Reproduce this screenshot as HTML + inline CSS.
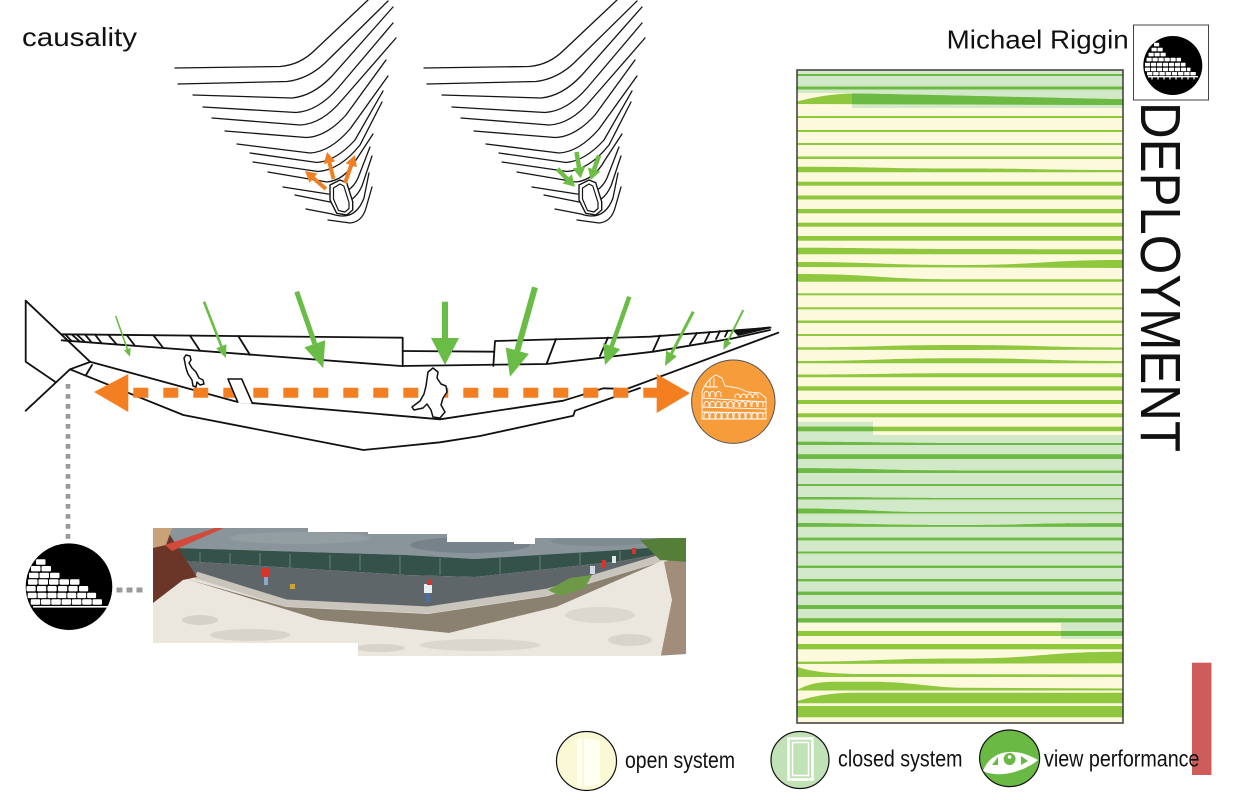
<!DOCTYPE html>
<html><head><meta charset="utf-8"><style>
html,body{margin:0;padding:0;background:#fff;}
svg{display:block;}
text{font-family:"Liberation Sans",Arial,sans-serif;fill:#111;}
</style></head><body>
<svg width="1236" height="800" viewBox="0 0 1236 800" xmlns="http://www.w3.org/2000/svg">
<rect width="1236" height="800" fill="#fff"/>
<defs>
  <g id="contours" fill="none" stroke="#151515" stroke-width="1.3" stroke-linecap="round">
    <path d="M175,68 L280,66.5 Q300,65 315,50 L368,0"/>
    <path d="M178,84 L287,81.5 Q308,79 325,63 L388,1"/>
    <path d="M193,95 L292,98 Q313,96 332,76 L393,7"/>
    <path d="M203,107 L296,112.5 Q318,111 338,88 L393,23"/>
    <path d="M212,118 L300,125 Q322,124 342,100 L396,38"/>
    <path d="M225,131 L306,137.5 Q326,137 346,115 L386,60"/>
    <path d="M237,144 L310,153 Q330,152 350,129 L388,76"/>
    <path d="M250,153 L317,162.5 Q336,161 355,140 L383,91"/>
    <path d="M253,162 L318,171.5 Q340,170 360,145 L382,102"/>
    <path d="M268,172 L327,182 Q345,180 356,160 L373,134"/>
    <path d="M283,187 L328,194 Q350,196 358,178 L370,147"/>
    <path d="M295,195 L330,202 Q352,208 362,186 L372,156"/>
    <path d="M306,209 L332,214 Q355,222 364,198 L369,173"/>
    <path d="M328,220 L350,223 Q362,222 366,208 L372,187"/>
  </g>
  <g id="rock">
    <polygon points="330,185 340,180 346.7,182.7 352.7,201.7 352.7,210 346.7,215 336.7,213.3 330,200" fill="#fff" stroke="#151515" stroke-width="1.4" stroke-linejoin="round"/>
    <polygon points="333.5,188 340,184 343.8,186 349,202.5 349,208.5 345,212 338.5,210.5 333.5,199" fill="none" stroke="#151515" stroke-width="1.2" stroke-linejoin="round"/>
  </g>
  <g id="stripes">
    <rect x="797" y="74" width="326" height="2"/>
    <rect x="797" y="86.5" width="326" height="3"/>
    <path d="M797,101.5 C815,97 832,93.8 852,93.5 C950,95 1050,98 1123,99.3 L1123,105 L797,104 Z"/>
    <rect x="797" y="116" width="326" height="2"/>
    <rect x="797" y="130" width="326" height="2"/>
    <rect x="797" y="143" width="326" height="2"/>
    <rect x="797" y="156.5" width="326" height="2.5"/>
    <path d="M797,166.7 C878,166.7 878,168.5 960,168.5 S1042,170 1123,170 L1123,172.3 L797,172.3 Z"/>
    <rect x="797" y="181.7" width="326" height="4"/>
    <rect x="797" y="195.5" width="326" height="4"/>
    <rect x="797" y="209" width="326" height="4.3"/>
    <rect x="797" y="222.7" width="326" height="4"/>
    <rect x="797" y="236" width="326" height="4.7"/>
    <path d="M797,247.7 C878,247.7 878,249 960,249 S1042,249.3 1123,249.3 L1123,254.3 L797,254.3 Z"/>
    <path d="M797,262 C878,262 878,265 960,265 S1042,260 1123,260 L1123,268 L797,267 Z"/>
    <path d="M797,274 C878,274 878,279.3 960,279.3 L1123,279.3 L1123,281.7 L797,281.7 Z"/>
    <rect x="797" y="293.3" width="326" height="2"/>
    <rect x="797" y="307.3" width="326" height="2"/>
    <rect x="797" y="320.5" width="326" height="2.5"/>
    <rect x="797" y="334" width="326" height="2"/>
    <path d="M797,347.3 C878,347.3 878,345 960,345 S1042,347.5 1123,347.5 L1123,349.7 C1042,349.7 1042,350 960,350 S878,349.7 797,349.7 Z"/>
    <path d="M797,361 C878,361 878,358.3 960,358.3 S1042,361 1123,361 L1123,363.3 L797,363.3 Z"/>
    <path d="M797,374.5 C878,374.5 878,373.3 960,373.3 L1123,373.3 L1123,377.3 L797,377.3 Z"/>
    <rect x="797" y="386.3" width="326" height="4.3"/>
    <rect x="797" y="400" width="326" height="4"/>
    <rect x="797" y="413.3" width="326" height="4"/>
    <rect x="797" y="426.7" width="326" height="4.5"/>
    <path d="M797,441.7 C878,441.7 878,443 960,443 L1123,443 L1123,445 L797,445 Z"/>
    <rect x="797" y="454.3" width="326" height="4.7"/>
    <path d="M797,468.3 C878,468.3 878,470.5 960,470.5 L1123,470.5 L1123,473 L797,473 Z"/>
    <rect x="797" y="484" width="326" height="2"/>
    <path d="M797,497 C878,497 878,498 960,498 L1123,498 L1123,499.5 L797,499.5 Z"/>
    <path d="M797,508.5 C850,508.5 880,512 920,512 L1123,512 L1123,513.5 L797,513.5 Z"/>
    <path d="M797,523 C850,523 870,525 960,525 S1000,523.3 1123,523.3 L1123,526.7 L797,526.7 Z"/>
    <rect x="797" y="537.7" width="326" height="2.6"/>
    <rect x="797" y="551.5" width="326" height="2"/>
    <rect x="797" y="565.7" width="326" height="2.3"/>
    <rect x="797" y="579" width="326" height="2.3"/>
    <rect x="797" y="591.7" width="326" height="3.3"/>
    <rect x="797" y="605" width="326" height="4"/>
    <rect x="797" y="618.3" width="326" height="4"/>
    <rect x="797" y="631" width="326" height="5"/>
    <rect x="797" y="644" width="326" height="5.3"/>
    <path d="M797,661.7 C878,661.7 878,658.5 960,658.5 S1042,651.7 1123,651.7 L1123,663.3 L797,664 Z"/>
    <path d="M797,666.7 C812,672 832,674 870,674 L1123,674.5 L1123,677 L797,677 Z"/>
    <path d="M797,690 C808,684 818,682 832,681.7 L873,681.7 C910,682 935,687.7 960,687.7 L1123,688.5 L1123,690.5 L797,690.5 Z"/>
    <path d="M797,701 C815,696 830,693 850,692.7 L1123,692.7 L1123,703.3 L797,703.3 Z"/>
    <rect x="797" y="706" width="326" height="11.3"/>
  </g>
  <clipPath id="greenClip">
    <polygon points="797,70 1123,70 1123,108 852,108 852,93 797,93"/>
    <polygon points="797,421.7 873,421.7 873,435 1123,435 1123,623 797,623"/>
    <rect x="1061" y="623" width="62" height="16"/>
  </clipPath>
  <clipPath id="photoClip">
    <polygon points="153,528 308,528 308,532 368,532 368,534 447,534 447,542 514,542 514,544 535,544 535,538 686,538 686,654 655,656 358,656 358,643 153,643"/>
  </clipPath>
  <clipPath id="leftCircle"><circle cx="69" cy="586.7" r="43.3"/></clipPath>
  <clipPath id="logoCircle"><circle cx="1172.8" cy="65.5" r="29.5"/></clipPath>
  <clipPath id="colClip"><circle cx="733.3" cy="401.7" r="41"/></clipPath>
</defs>

<!-- titles -->
<text x="22" y="46" font-size="26" textLength="115" lengthAdjust="spacingAndGlyphs">causality</text>
<text x="946.7" y="48.3" font-size="26" textLength="182" lengthAdjust="spacingAndGlyphs">Michael Riggin</text>
<text transform="translate(1141,102) rotate(90)" font-size="57" textLength="350" lengthAdjust="spacingAndGlyphs">DEPLOYMENT</text>

<!-- top sketches -->
<use href="#contours"/>
<use href="#rock"/>
<g transform="translate(249,0)">
  <use href="#contours"/>
  <use href="#rock"/>
</g>
<!-- orange small arrows (left sketch) -->
<g fill="#f07f22" stroke="#f07f22">
  <line x1="326" y1="189" x2="313.4" y2="178.1" stroke-width="4"/>
  <polygon points="305,171 317.3,173.5 309.5,182.7" stroke="none"/>
  <line x1="333.5" y1="179" x2="329.5" y2="162.7" stroke-width="4"/>
  <polygon points="327,152 335.3,161.4 323.7,164" stroke="none"/>
  <line x1="345" y1="183" x2="351.2" y2="165.3" stroke-width="4"/>
  <polygon points="355,155 356.8,167.4 345.6,163.2" stroke="none"/>
</g>
<!-- green small arrows (right sketch) -->
<g fill="#6cbf44" stroke="#6cbf44">
  <line x1="557.5" y1="169" x2="567.2" y2="178.9" stroke-width="4.5"/>
  <polygon points="575,186.7 562.6,183.5 571.8,174.3" stroke="none"/>
  <line x1="576.5" y1="152" x2="579" y2="167.4" stroke-width="4.5"/>
  <polygon points="580.7,178.3 572.6,168.4 585.4,166.4" stroke="none"/>
  <line x1="599" y1="155.5" x2="594.1" y2="169.5" stroke-width="4.5"/>
  <polygon points="590.7,180 587.9,167.5 600.3,171.5" stroke="none"/>
</g>

<!-- section drawing -->
<g fill="none" stroke="#111" stroke-width="1.8" stroke-linejoin="round" stroke-linecap="round">
  <path d="M25.7,300.7 L90,361.7"/>
  <path d="M25.7,300.7 L25.7,361.7 L55,381.7"/>
  <path d="M25.7,410.7 L70,369.3 L90,362"/>
  <path d="M92,365 L86,375"/>
  <path d="M90,361.7 L236.7,401.7 L440,419.3 L563.3,400.7 L603.3,388.3 L626.7,389 L778.3,332.7"/>
  <path d="M70,369.3 L183.3,415 L363.3,450 L440,442.3 L480,436 L573.3,415.7 L575,410.7 L640,388"/>
  <path d="M61.7,334.3 L402.7,337.7 L402.7,366"/>
  <path d="M402.7,351 L493.3,351.7"/>
  <path d="M493.3,366 L495,341 L650,336.7 L770,327.7"/>
  <path d="M61.7,340.3 L401,366 L546.7,364 L653.3,351.7 L733.3,338.3 L770,330"/>
  <path d="M65,334.3 L71.7,341.1 M71.7,334.4 L80,341.7 M76.7,334.5 L85,342.1 M85,334.5 L91.7,342.6 M95,334.6 L101.7,343.3 M108.3,334.8 L116.7,344.5 M126.7,335 L135,345.8 M153.3,335.2 L163.3,348 M190,335.6 L200,350.8 M238.3,336.1 L250,354.9"/>
  <path d="M556,339 L546.7,363.5 M608,337.5 L600,356 M660,335.5 L653,351 M697,333 L690,344 M710,332 L705,341.5 M720,331 L716,339 M728,330.5 L725,336.5"/>
</g>
<polygon points="733,330.5 770,326.5 772,328 738,336" fill="#111"/>

<!-- green arrows -->
<g fill="#69bc45" stroke="#69bc45">
  <line x1="115.7" y1="316" x2="127.3" y2="349.1" stroke-width="1.6"/>
  <polygon points="130,356.7 124,350.3 130.6,347.9" stroke="none"/>
  <line x1="204" y1="301.7" x2="221.3" y2="346.2" stroke-width="2.6"/>
  <polygon points="226,358.3 216.2,348.2 226.4,344.2" stroke="none"/>
  <line x1="296.7" y1="291.7" x2="314.8" y2="343.8" stroke-width="5"/>
  <polygon points="323.3,368.3 304.4,347.4 325.2,340.2" stroke="none"/>
  <line x1="445" y1="301.7" x2="445" y2="339" stroke-width="6"/>
  <polygon points="445,365 431,338 459,338" stroke="none"/>
  <line x1="535" y1="287.3" x2="517.3" y2="350.7" stroke-width="6"/>
  <polygon points="510,376.7 505.7,347.5 528.9,353.9" stroke="none"/>
  <line x1="629.3" y1="296.7" x2="611.7" y2="346.2" stroke-width="4.5"/>
  <polygon points="605,365 603.2,343.2 620.2,349.2" stroke="none"/>
  <line x1="693.3" y1="311.7" x2="671.5" y2="353.6" stroke-width="3"/>
  <polygon points="665,366 666.2,350.8 676.8,356.4" stroke="none"/>
  <line x1="743.3" y1="310" x2="727.8" y2="341.1" stroke-width="2"/>
  <polygon points="723.3,350 724.2,339.3 731.4,342.9" stroke="none"/>
</g>

<!-- orange dashed arrow -->
<line x1="133.3" y1="392.7" x2="657" y2="392.7" stroke="#f47f20" stroke-width="10" stroke-dasharray="15 15"/>
<polygon points="94,392 128.3,374 128.3,412" fill="#f47f20"/>
<polygon points="690,393.3 656.7,374 656.7,413" fill="#f47f20"/>

<!-- door & people -->
<path d="M238,402.7 L228,379 L241.7,379 L252.7,404" fill="#fff" stroke="#111" stroke-width="1.6" stroke-linejoin="round"/>
<polygon points="184,358 186,355 190,356 191,360 189,363 192,368 196,372 199,378 203,380 204,384 200,385 197,382 196,387 193,386 192,380 188,374 186,368 185,363" fill="#fff" stroke="#111" stroke-width="1.5" stroke-linejoin="round"/>
<polygon points="428,372 433,368 438,372 437,378 441,384 446,386 447,392 443,398 441,405 445,412 440,418 433,417 431,410 427,404 423,408 414,410 412,407 420,401 424,394 426,386 427,379" fill="#fff" stroke="#111" stroke-width="1.5" stroke-linejoin="round"/>

<!-- colosseum -->
<circle cx="733.3" cy="401.7" r="41.7" fill="#f79c3b" stroke="#555" stroke-width="1"/>
<g clip-path="url(#colClip)" fill="none" stroke="#fff" stroke-width="0.9">
  <path d="M702,419 L702,392 Q706,380 716,375 L722,378 L725,386 L738,388 L748,392 L760,393 L766,398 L766,419 Z"/>
  <path d="M702,398 L766,402 M702,407 L766,409 M702,412 L766,413"/>
  <path d="M704,419 v-4 a2.5,2.5 0 0 1 5,0 v4 m1,0 v-4 a2.5,2.5 0 0 1 5,0 v4 m1,0 v-4 a2.5,2.5 0 0 1 5,0 v4 m1,0 v-4 a2.5,2.5 0 0 1 5,0 v4 m1,0 v-4 a2.5,2.5 0 0 1 5,0 v4 m1,0 v-4 a2.5,2.5 0 0 1 5,0 v4 m1,0 v-4 a2.5,2.5 0 0 1 5,0 v4 m1,0 v-4 a2.5,2.5 0 0 1 5,0 v4 m1,0 v-4 a2.5,2.5 0 0 1 5,0 v4 m1,0 v-4 a2.5,2.5 0 0 1 5,0 v4"/>
  <path d="M704,407 v-3 a2.5,2.5 0 0 1 5,0 v3 m1,0 v-3 a2.5,2.5 0 0 1 5,0 v3 m1,0 v-3 a2.5,2.5 0 0 1 5,0 v3 m1,0 v-3 a2.5,2.5 0 0 1 5,0 v3 m1,0 v-3 a2.5,2.5 0 0 1 5,0 v3 m1,0 v-3 a2.5,2.5 0 0 1 5,0 v3 m1,0 v-3 a2.5,2.5 0 0 1 5,0 v3 m1,0 v-3 a2.5,2.5 0 0 1 5,0 v3 m1,0 v-3 a2.5,2.5 0 0 1 5,0 v3 m1,0 v-3 a2.5,2.5 0 0 1 5,0 v3"/>
  <path d="M704,397 v-3 a2.5,2.5 0 0 1 5,0 v3 m1,0 v-3 a2.5,2.5 0 0 1 5,0 v3 m1,0 v-3 a2.5,2.5 0 0 1 5,0 v3 m14,1 v-2 a2.5,2 0 0 1 5,0 v2 m1,0 v-2 a2.5,2 0 0 1 5,0 v2 m1,0 v-2 a2.5,2 0 0 1 5,0 v2 m1,0 v-2 a2.5,2 0 0 1 5,0 v2"/>
  <path d="M706,387 h12 M706,383 v4 M710,380 v7 M714,378 v9"/>
</g>

<!-- dotted connectors -->
<line x1="68" y1="384" x2="68" y2="541" stroke="#9a9a9a" stroke-width="4.7" stroke-dasharray="4.7 5.3"/>
<line x1="116.5" y1="590" x2="146" y2="590" stroke="#9a9a9a" stroke-width="5" stroke-dasharray="6 4"/>

<!-- left brick circle -->
<circle cx="69" cy="586.7" r="43.3" fill="#000"/>
<g clip-path="url(#leftCircle)" fill="#fff">
  <rect x="36" y="559.3" width="9.5" height="5.4" rx="1"/>
  <rect x="31" y="566" width="9.5" height="5.4" rx="1"/><rect x="41.5" y="566" width="9.5" height="5.4" rx="1"/>
  <rect x="29" y="572.7" width="9.5" height="5.4" rx="1"/><rect x="39.5" y="572.7" width="9.5" height="5.4" rx="1"/><rect x="50" y="572.7" width="9.5" height="5.4" rx="1"/>
  <rect x="28" y="579.3" width="9.5" height="5.4" rx="1"/><rect x="38.5" y="579.3" width="9.5" height="5.4" rx="1"/><rect x="49" y="579.3" width="9.5" height="5.4" rx="1"/><rect x="59.5" y="579.3" width="9.5" height="5.4" rx="1"/><rect x="70" y="579.3" width="9.5" height="5.4" rx="1"/>
  <rect x="26.5" y="586" width="9.2" height="5.4" rx="1"/><rect x="37" y="586" width="9.2" height="5.4" rx="1"/><rect x="47.5" y="586" width="9.2" height="5.4" rx="1"/><rect x="58" y="586" width="9.2" height="5.4" rx="1"/><rect x="68.5" y="586" width="9.2" height="5.4" rx="1"/><rect x="79" y="586" width="9.2" height="5.4" rx="1"/>
  <rect x="27.7" y="592.7" width="9" height="5.4" rx="1"/><rect x="37.6" y="592.7" width="9" height="5.4" rx="1"/><rect x="47.5" y="592.7" width="9" height="5.4" rx="1"/><rect x="57.4" y="592.7" width="9" height="5.4" rx="1"/><rect x="67.3" y="592.7" width="9" height="5.4" rx="1"/><rect x="77.2" y="592.7" width="9" height="5.4" rx="1"/><rect x="87.1" y="592.7" width="9" height="5.4" rx="1"/>
  <rect x="30.7" y="599.3" width="9.5" height="5.4" rx="1"/><rect x="41" y="599.3" width="9.5" height="5.4" rx="1"/><rect x="51.3" y="599.3" width="9.5" height="5.4" rx="1"/><rect x="61.6" y="599.3" width="9.5" height="5.4" rx="1"/><rect x="71.9" y="599.3" width="9.5" height="5.4" rx="1"/><rect x="82.2" y="599.3" width="9.5" height="5.4" rx="1"/><rect x="92.5" y="599.3" width="9.5" height="5.4" rx="1"/>
  <rect x="33" y="606" width="75" height="1.6"/>
</g>

<!-- photo panorama -->
<g clip-path="url(#photoClip)">
  <rect x="150" y="520" width="545" height="140" fill="#e6e2da"/>
  <polygon points="150,520 695,520 695,546 664,548 621,551 475,559 406,555 175,548 150,540" fill="#8a959b"/>
  <ellipse cx="470" cy="545" rx="60" ry="8" fill="#76838a"/>
  <ellipse cx="300" cy="538" rx="70" ry="6" fill="#939ea3"/>
  <ellipse cx="600" cy="541" rx="50" ry="5" fill="#7f8b90"/>
  <polygon points="175,548 406,555 475,559 621,550 664,547 672,547 664,553 621,561 475,577 406,575 183,561" fill="#34524a"/>
  <path d="M200,552 v10 M230,553 v11 M260,553 v12 M290,554 v13 M330,555 v14 M360,555 v15 M400,556 v18 M440,558 v17 M500,558 v17 M540,556 v15 M580,553 v12 M620,551 v10" stroke="#6d817b" stroke-width="1"/>
  <polygon points="183,561 406,575 475,577 621,561 664,553 672,551 664,557 548,592 428,610 286,603 196,575" fill="#5f666a"/>
  <polyline points="196,575 286,603 428,610 548,592 664,557" fill="none" stroke="#c9c5bc" stroke-width="7"/>
  <polygon points="190,580 286,607 428,614 548,596 664,561 664,562 556,607 449,633 320,620 183,578" fill="#8b8170"/>
  <polygon points="153,603 183,578 320,620 449,633 556,607 664,560 695,553 695,660 153,660" fill="#ebe7df"/>
  <ellipse cx="250" cy="635" rx="40" ry="6" fill="#d9d4cb"/>
  <ellipse cx="480" cy="645" rx="60" ry="6" fill="#dcd7ce"/>
  <ellipse cx="600" cy="615" rx="35" ry="8" fill="#ddd8cf"/>
  <ellipse cx="200" cy="620" rx="18" ry="5" fill="#d6d1c8"/>
  <ellipse cx="380" cy="648" rx="25" ry="4" fill="#d8d3ca"/>
  <ellipse cx="630" cy="640" rx="22" ry="6" fill="#d9d4cb"/>
  <polygon points="153,534 168,532 197,577 183,580 153,603" fill="#6b3628"/>
  <polygon points="153,528 172,528 166,545 153,548" fill="#c9a27a"/>
  <polygon points="165,545 215,528 224,528 172,551" fill="#d24a3a"/>
  <polygon points="664,562 695,552 695,660 660,660 672,600" fill="#a18d79"/>
  <polygon points="640,540 686,536 690,562 660,560" fill="#557e38"/>
  <polygon points="548,590 570,578 592,575 585,588 560,596" fill="#6e9a48"/>
  <rect x="262" y="568" width="7" height="9" fill="#d8342a"/><rect x="264" y="577" width="4" height="8" fill="#8fa6c8"/>
  <rect x="290" y="584" width="5" height="5" fill="#c8a530"/>
  <rect x="424" y="584" width="8" height="9" fill="#e8eef4"/><rect x="427" y="580" width="5" height="5" fill="#d8342a"/><rect x="426" y="593" width="4" height="9" fill="#4a6fa6"/>
  <rect x="590" y="566" width="5" height="8" fill="#cfd8e4"/><rect x="602" y="560" width="4" height="8" fill="#d8342a"/><rect x="612" y="556" width="4" height="7" fill="#e0e8f0"/><rect x="632" y="548" width="4" height="6" fill="#d8342a"/>
</g>

<!-- green panel -->
<rect x="797" y="70" width="326" height="653" fill="#fcf9dd"/>
<g clip-path="url(#greenClip)"><rect x="797" y="70" width="326" height="653" fill="#d2e9c9"/></g>
<use href="#stripes" fill="#8fc73e"/>
<g clip-path="url(#greenClip)"><use href="#stripes" fill="#6cb944"/></g>
<rect x="797" y="70" width="326" height="653" fill="none" stroke="#3a3a3a" stroke-width="1.5"/>

<!-- logo -->
<rect x="1133.5" y="25" width="75" height="75" fill="#fff" stroke="#444" stroke-width="1"/>
<circle cx="1172.8" cy="65.5" r="29.5" fill="#000"/>
<g clip-path="url(#logoCircle)" fill="#fff">
  <rect x="1154" y="42.8" width="5.2" height="3.6" rx="0.6"/>
  <rect x="1151.5" y="47.8" width="5.2" height="3.6" rx="0.6"/><rect x="1157.5" y="47.8" width="5.2" height="3.6" rx="0.6"/>
  <rect x="1148.5" y="52.8" width="5.2" height="3.6" rx="0.6"/><rect x="1154.5" y="52.8" width="5.2" height="3.6" rx="0.6"/><rect x="1160.5" y="52.8" width="5.2" height="3.6" rx="0.6"/>
  <rect x="1146.5" y="57.8" width="5.2" height="3.6" rx="0.6"/><rect x="1152.5" y="57.8" width="5.2" height="3.6" rx="0.6"/><rect x="1158.5" y="57.8" width="5.2" height="3.6" rx="0.6"/><rect x="1164.5" y="57.8" width="5.2" height="3.6" rx="0.6"/><rect x="1170.5" y="57.8" width="5.2" height="3.6" rx="0.6"/><rect x="1176.5" y="57.8" width="4.5" height="3.6" rx="0.6"/>
  <rect x="1145" y="62.8" width="5.2" height="3.6" rx="0.6"/><rect x="1151" y="62.8" width="5.2" height="3.6" rx="0.6"/><rect x="1157" y="62.8" width="5.2" height="3.6" rx="0.6"/><rect x="1163" y="62.8" width="5.2" height="3.6" rx="0.6"/><rect x="1169" y="62.8" width="5.2" height="3.6" rx="0.6"/><rect x="1175" y="62.8" width="5.2" height="3.6" rx="0.6"/><rect x="1181" y="62.8" width="4.5" height="3.6" rx="0.6"/>
  <rect x="1145" y="67.6" width="5.2" height="3.6" rx="0.6"/><rect x="1151" y="67.6" width="5.2" height="3.6" rx="0.6"/><rect x="1157" y="67.6" width="5.2" height="3.6" rx="0.6"/><rect x="1163" y="67.6" width="5.2" height="3.6" rx="0.6"/><rect x="1169" y="67.6" width="5.2" height="3.6" rx="0.6"/><rect x="1175" y="67.6" width="5.2" height="3.6" rx="0.6"/><rect x="1181" y="67.6" width="5.2" height="3.6" rx="0.6"/><rect x="1187" y="67.6" width="3.5" height="3.6" rx="0.6"/>
  <rect x="1147" y="72" width="5.4" height="3.4" rx="0.6"/><rect x="1153.2" y="72" width="5.4" height="3.4" rx="0.6"/><rect x="1159.4" y="72" width="5.4" height="3.4" rx="0.6"/><rect x="1165.6" y="72" width="5.4" height="3.4" rx="0.6"/><rect x="1171.8" y="72" width="5.4" height="3.4" rx="0.6"/><rect x="1178" y="72" width="5.4" height="3.4" rx="0.6"/><rect x="1184.2" y="72" width="5.4" height="3.4" rx="0.6"/><rect x="1190.4" y="72" width="5.4" height="3.4" rx="0.6"/>
  <rect x="1148" y="76" width="50" height="1.4"/>
  <path d="M1152,77 v2.5 M1158,77 v2.5 M1164,77 v2.5 M1170,77 v2.5 M1176,77 v2.5 M1182,77 v2.5 M1188,77 v2.5 M1194,77 v2.5" stroke="#fff" stroke-width="1.2"/>
</g>

<!-- red bar -->
<rect x="1192" y="662.7" width="19.5" height="112.3" fill="#cd5c5a"/>

<!-- legend -->
<ellipse cx="586.5" cy="761" rx="30" ry="29.5" fill="#fbf8d6" stroke="#111" stroke-width="1.2"/>
<polygon points="577,740 583,738 600,741 600,784 583,787 577,786" fill="#fffff2"/>
<line x1="583" y1="738" x2="583" y2="787" stroke="#f3f0cc" stroke-width="1"/>
<text x="625" y="768" font-size="23" textLength="110" lengthAdjust="spacingAndGlyphs">open system</text>

<ellipse cx="800" cy="760" rx="29" ry="28.5" fill="#c1e1b7" stroke="#111" stroke-width="1.2"/>
<rect x="788.5" y="738.5" width="24" height="41" fill="none" stroke="#fff" stroke-width="2.5"/>
<rect x="792.5" y="742.5" width="16" height="33" fill="none" stroke="#fff" stroke-width="1.5"/>
<text x="838" y="766.5" font-size="23" textLength="124.5" lengthAdjust="spacingAndGlyphs">closed system</text>

<ellipse cx="1009.6" cy="758.3" rx="30" ry="28.3" fill="#69b944" stroke="#111" stroke-width="1.2"/>
<path d="M983,771 C990,752 1012,745 1038,760 C1025,771 1000,779 983,771 Z" fill="#fff"/>
<circle cx="1009.6" cy="759" r="6" fill="#69b944"/>
<circle cx="1009.6" cy="757" r="1.8" fill="#fff"/>
<polygon points="992,765 998,757 998,765" fill="#69b944"/>
<polygon points="1021,756 1028,761 1021,765" fill="#69b944"/>
<text x="1044" y="766.5" font-size="23" textLength="155.5" lengthAdjust="spacingAndGlyphs">view performance</text>
</svg>
</body></html>
